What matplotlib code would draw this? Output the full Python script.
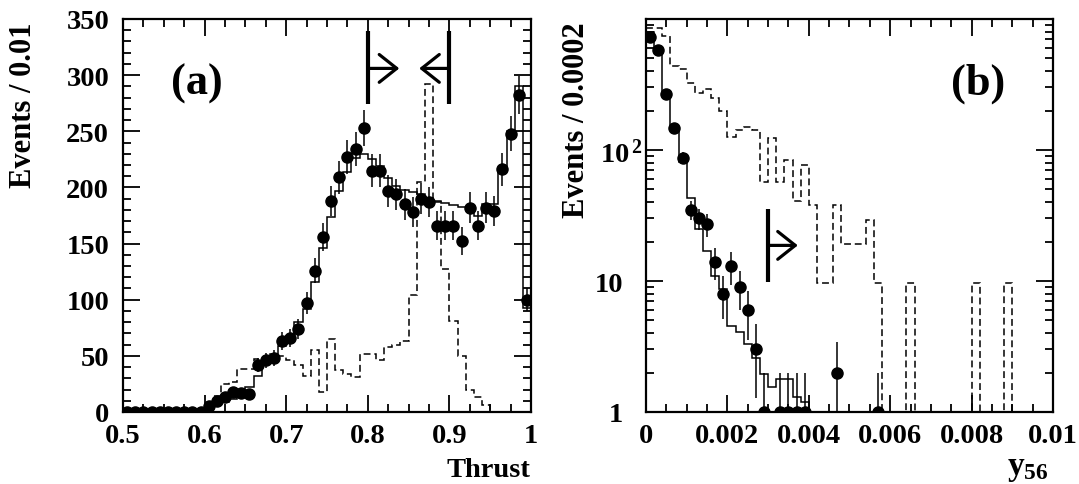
import numpy as np
import matplotlib
matplotlib.use("Agg")
import matplotlib.pyplot as plt
import matplotlib.transforms as mtransforms
from matplotlib.ticker import MultipleLocator, FixedLocator, LogLocator, NullFormatter

# ---------------- data: panel (a), Thrust, 50 bins of 0.01 from 0.5 to 1.0 ----------------
thrust_range = (0.5, 1.0)
thrust_data = [0, 0, 0, 0, 0, 0, 0, 0, 0, 0,
               5, 10, 13, 18, 17, 16, 42, 46, 48, 63,
               66, 74, 97, 126, 156, 188, 209, 227, 234, 253,
               215, 215, 197, 194, 185, 178, 190, 187, 166, 166,
               166, 152, 182, 166, 182, 179, 216, 248, 282, 100]
thrust_mc = [0, 0, 0, 0, 0, 0, 0, 0, 0, 1,
             3, 6, 9, 12, 17, 22, 32, 44, 50, 59,
             68, 80, 92, 116, 146, 174, 197, 214, 226, 230,
             225, 219, 208, 201, 198, 196, 194, 191, 188, 186,
             184, 183, 182, 175, 185, 185, 215, 250, 290, 93]
thrust_sig = [0, 0, 0, 0, 0, 0, 0, 0, 0, 0,
              5, 14, 25, 27, 38, 38, 47, 47, 52, 50,
              46, 42, 32, 55, 18, 65, 37, 34, 31, 52,
              52, 46, 58, 60, 63, 104, 205, 292, 187, 127,
              81, 50, 20, 13, 6, 0, 0, 0, 0, 0]
thrust_ticks = [0.5, 0.6, 0.7, 0.8, 0.9, 1.0]
thrust_ticklabels = ["0.5", "0.6", "0.7", "0.8", "0.9", "1"]
count_ticks = [0, 50, 100, 150, 200, 250, 300, 350]

# ---------------- data: panel (b), y56, 50 bins of 0.0002 from 0 to 0.01 ----------------
y56_range = (0.0, 0.01)
y56_data = [723, 582, 266, 148, 87, 35, 30, 27, 14, 8,
            13, 9, 6, 3, 1, 0, 1, 1, 1, 1,
            0, 0, 0, 2, 0, 0, 0, 0, 1, 0,
            0, 0, 0, 0, 0, 0, 0, 0, 0, 0,
            0, 0, 0, 0, 0, 0, 0, 0, 0, 0]
y56_mc = [800, 590, 265, 146, 81, 43, 25, 17, 11, 8.7,
          4.5, 4.1, 3.3, 2.6, 1.95, 1.55, 1.8, 1.8, 1.3, 1.2,
          0, 0, 0, 0, 0, 0, 0, 0, 0, 0,
          0, 0, 0, 0, 0, 0, 0, 0, 0, 0,
          0, 0, 0, 0, 0, 0, 0, 0, 0, 0]
y56_sig = [850, 850, 736, 434, 415, 325, 271, 290, 248, 200,
           126, 142, 151, 142, 57, 123, 57, 84, 41, 77,
           38, 9.6, 9.6, 38, 19.3, 19.3, 19.3, 29, 9.6, 0,
           0, 0, 9.6, 0, 0, 0, 0, 0, 0, 0,
           9.6, 0, 0, 0, 9.6, 0, 0, 0, 0, 0]
y56_ticks = [0, 0.002, 0.004, 0.006, 0.008, 0.01]
y56_ticklabels = ["0", "0.002", "0.004", "0.006", "0.008", "0.01"]
log_ticks = [1, 10, 100]
log_ticklabels = ["1", "10", r"$10^{\,2}$"]

# ---------------- style ----------------
plt.rcParams["font.family"] = ["Liberation Serif", "DejaVu Serif"]
plt.rcParams["font.weight"] = "bold"
plt.rcParams["mathtext.fontset"] = "custom"
plt.rcParams["mathtext.rm"] = "Liberation Serif:bold"
plt.rcParams["mathtext.it"] = "Liberation Serif:bold"
plt.rcParams["mathtext.bf"] = "Liberation Serif:bold"

W, H = 1079, 485
fig = plt.figure(figsize=(W / 100, H / 100), dpi=100)
ax1 = fig.add_axes([123 / W, 72 / H, 408 / W, 393 / H])
ax2 = fig.add_axes([646 / W, 72 / H, 407 / W, 393 / H])

dash = (0, (4.5, 2.5))
lw_hist = 1.1

def style_axes(ax, ypad):
    for s in ax.spines.values():
        s.set_linewidth(1.6)
    ax.tick_params(which="both", direction="in", top=True, right=True, width=1.3,
                   labelsize=20.5)
    ax.tick_params(which="major", length=12)
    ax.tick_params(which="minor", length=6)
    ax.tick_params(axis="x", pad=8)
    ax.tick_params(axis="y", pad=ypad)

# ---------------- panel (a) ----------------
nb = len(thrust_data)
edges1 = np.linspace(thrust_range[0], thrust_range[1], nb + 1)
cent1 = 0.5 * (edges1[:-1] + edges1[1:])
d1 = np.array(thrust_data, dtype=float)

ax1.stairs(thrust_sig, edges1, color="k", lw=lw_hist, linestyle=dash)
ax1.stairs(thrust_mc, edges1, color="k", lw=lw_hist)
ax1.errorbar(cent1, d1, yerr=np.sqrt(d1), fmt="o", color="k", ms=8,
             elinewidth=1.1, capsize=0, zorder=5)

ax1.set_xlim(*thrust_range)
ax1.set_ylim(0, 350)
ax1.xaxis.set_major_locator(FixedLocator(thrust_ticks))
ax1.set_xticklabels(thrust_ticklabels)
ax1.xaxis.set_minor_locator(MultipleLocator(0.025))
ax1.yaxis.set_major_locator(FixedLocator(count_ticks))
ax1.set_yticklabels([str(v) for v in count_ticks])
ax1.yaxis.set_minor_locator(MultipleLocator(10))
style_axes(ax1, 10)

# cut markers (a)
ax1.plot([0.8, 0.8], [274, 339], color="k", lw=3.0, solid_capstyle="butt")
ax1.plot([0.9, 0.9], [274, 339], color="k", lw=3.0, solid_capstyle="butt")
arrow_kw = dict(arrowstyle="->,head_length=0.63,head_width=0.5", lw=2.3, color="k",
                shrinkA=0, shrinkB=0, mutation_scale=20)
ax1.annotate("", xy=(0.8386, 306), xytext=(0.8, 306), arrowprops=arrow_kw)
ax1.annotate("", xy=(0.863, 306), xytext=(0.9, 306), arrowprops=arrow_kw)

# ---------------- panel (b) ----------------
edges2 = np.linspace(y56_range[0], y56_range[1], len(y56_data) + 1)
cent2 = 0.5 * (edges2[:-1] + edges2[1:])
d2 = np.array(y56_data, dtype=float)
floor = 1e-2
ax2.stairs(np.clip(np.array(y56_sig, float), floor, None), edges2, color="k",
           lw=lw_hist, linestyle=dash, baseline=None)
ax2.stairs(np.clip(np.array(y56_mc, float), floor, None), edges2, color="k",
           lw=lw_hist, baseline=None)
m = d2 > 0
err = np.sqrt(d2[m])
lo = np.minimum(err, d2[m] - 1e-3)
ax2.errorbar(cent2[m], d2[m], yerr=[lo, err], fmt="o", color="k", ms=8,
             elinewidth=1.1, capsize=0, zorder=5)

ax2.set_yscale("log")
ax2.set_xlim(*y56_range)
ax2.set_ylim(1, 1000)
ax2.xaxis.set_major_locator(FixedLocator(y56_ticks))
ax2.set_xticklabels(y56_ticklabels)
ax2.xaxis.set_minor_locator(MultipleLocator(0.0005))
ax2.yaxis.set_major_locator(FixedLocator(log_ticks))
ax2.set_yticklabels(log_ticklabels)
ax2.yaxis.set_minor_locator(LogLocator(base=10, subs=np.arange(2, 10)))
ax2.yaxis.set_minor_formatter(NullFormatter())
style_axes(ax2, 16.5)
lab = ax2.get_yticklabels()[2]
lab.set_transform(lab.get_transform() +
                  mtransforms.ScaledTranslation(0.2, 0, fig.dpi_scale_trans))

# cut marker (b)
ax2.plot([0.003, 0.003], [9.9, 35.7], color="k", lw=3.0, solid_capstyle="butt")
ax2.annotate("", xy=(0.00373, 18.7), xytext=(0.003, 18.7), arrowprops=arrow_kw)

# ---------------- labels ----------------
fig.text(23.5 / W, 1 - 22 / H, "Events / 0.01", rotation=90, ha="center", va="top",
         fontsize=22, fontweight="bold")
fig.text(576 / W, 1 - 22 / H, "Events / 0.0002", rotation=90, ha="center", va="top",
         fontsize=22, fontweight="bold")
fig.text(530 / W, 8 / H, "Thrust", ha="right", va="baseline", fontsize=20.5,
         fontweight="bold")
fig.text(1048 / W, 10 / H, r"$y_{56}$", ha="right", va="baseline", fontsize=24)
fig.text(196.5 / W, (H - 95) / H, "(a)", ha="center", va="baseline", fontsize=32,
         fontweight="bold")
fig.text(978.5 / W, (H - 95) / H, "(b)", ha="center", va="baseline", fontsize=32,
         fontweight="bold")

fig.savefig("out.png", dpi=100)
